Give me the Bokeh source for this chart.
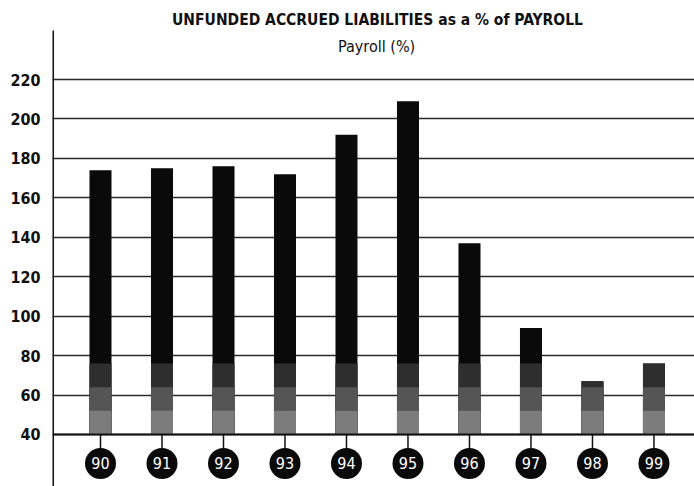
import numpy as np
from bokeh.plotting import figure
from bokeh.models import Range1d, FixedTicker, Span, ColumnDataSource
from bokeh.core.properties import value
from bokeh.embed import file_html
from bokeh.resources import INLINE

# ---- data ----
years = ["90", "91", "92", "93", "94", "95", "96", "97", "98", "99"]
pct = [174, 175, 176, 172, 192, 209, 137, 94, 67, 76]
y_ticks = [40, 60, 80, 100, 120, 140, 160, 180, 200, 220]
title_text = "UNFUNDED ACCRUED LIABILITIES as a % of PAYROLL"
subtitle_text = "Payroll (%)"

BASE = 40
NARROW = "DejaVu Sans Condensed"

x = np.arange(len(years), dtype=float)
vals = np.array(pct, dtype=float)

Y0, Y1 = 13.63, 260.06
p = figure(width=694, height=486, output_backend="svg", toolbar_location=None,
           x_range=Range1d(-0.7805, 9.659), y_range=Range1d(Y0, Y1),
           min_border_left=52, min_border_right=0, min_border_top=0,
           min_border_bottom=0)
p.outline_line_color = None
p.background_fill_color = "white"
p.border_fill_color = "white"

# axes
p.xaxis.visible = False
p.xgrid.visible = False
yax = p.yaxis[0]
yax.ticker = FixedTicker(ticks=y_ticks)
yax.axis_line_color = None
yax.major_tick_line_color = None
yax.minor_tick_line_color = None
yax.major_tick_out = 0
yax.major_tick_in = 0
yax.major_label_standoff = 12
yax.major_label_text_font = NARROW
yax.major_label_text_font_style = "bold"
yax.major_label_text_font_size = "16px"
yax.major_label_text_color = "#111111"

p.ygrid.ticker = FixedTicker(ticks=y_ticks)
p.ygrid.grid_line_color = "#2a2a2a"
p.ygrid.grid_line_width = 1.5

# vertical axis line
p.segment(x0=[-0.772], y0=[Y0], x1=[-0.772], y1=[244.8],
          line_color="#111111", line_width=2)

# bars with dark-to-light shading toward the base
bw = 0.358
bands = [(BASE, 999, "#0a0a0a"), (BASE, 76, "#2e2e2e"),
         (BASE, 64, "#555555"), (BASE, 52, "#7c7c7c")]
for lo, hi, col in bands:
    tops = np.minimum(vals, hi)
    m = tops > lo
    src = ColumnDataSource(dict(x=x[m], top=tops[m]))
    p.vbar(x="x", top="top", bottom=lo, width=bw, source=src,
           fill_color=col, line_color=None)

# baseline
p.add_layout(Span(location=BASE, dimension="width", line_color="#111111",
                  line_width=2))

# category badges
circ_y = 25.3
tick_end = 32.9
p.segment(x0=x, y0=[BASE] * len(x), x1=x, y1=[tick_end] * len(x),
          line_color="#111111", line_width=1.5)
p.scatter(x=x, y=[circ_y] * len(x), size=31, marker="circle",
          fill_color="#0a0a0a", line_color=None)
p.text(x=x, y=[circ_y] * len(x), text=years, text_color="white",
       text_font=value(NARROW), text_font_size="16px",
       text_align="center", text_baseline="middle")

# title and subtitle
p.text(x=[4.504], y=[250.4], text=[title_text], text_color="#111111",
       text_font=value(NARROW), text_font_style="bold",
       text_font_size="15.5px", text_align="center", text_baseline="middle")
p.text(x=[4.49], y=[236.7], text=[subtitle_text], text_color="#111111",
       text_font=value(NARROW), text_font_size="16px",
       text_align="center", text_baseline="middle")

open("out.html", "w").write(file_html(p, INLINE))
